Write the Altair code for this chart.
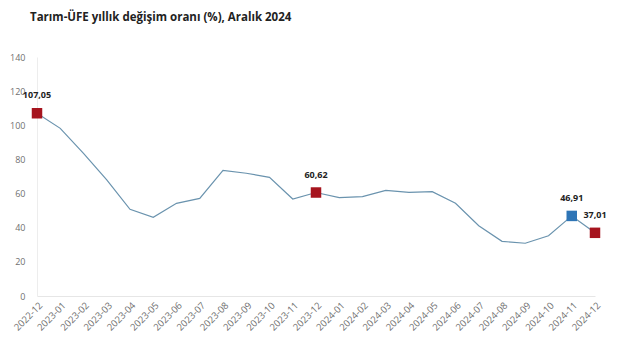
import altair as alt
import pandas as pd

months = ["2022-12", "2023-01", "2023-02", "2023-03", "2023-04", "2023-05", "2023-06",
          "2023-07", "2023-08", "2023-09", "2023-10", "2023-11", "2023-12", "2024-01",
          "2024-02", "2024-03", "2024-04", "2024-05", "2024-06", "2024-07", "2024-08",
          "2024-09", "2024-10", "2024-11", "2024-12"]
values = [107.05, 98.2, 83.6, 68.0, 50.8, 46.1, 54.3, 57.2, 73.6, 71.9, 69.5, 56.8, 60.62,
          57.6, 58.2, 61.9, 60.7, 61.1, 54.3, 41.2, 32.0, 30.9, 35.3, 46.91, 37.01]
highlight_months = ["2022-12", "2023-12", "2024-11", "2024-12"]
highlight_colors = ["#A6141E", "#A6141E", "#2E75B6", "#A6141E"]
highlight_labels = ["107,05", "60,62", "46,91", "37,01"]

df = pd.DataFrame({"ay": months, "oran": values})
hl = pd.DataFrame({
    "ay": highlight_months,
    "oran": [values[months.index(m)] for m in highlight_months],
    "renk": highlight_colors,
    "etiket": highlight_labels,
})

x_enc = alt.X("ay:O", sort=months, scale=alt.Scale(type="point", padding=0),
              axis=alt.Axis(title=None, labelAngle=-45, labelFontSize=9.5, labelColor="#707070",
                            labelFont="Open Sans", ticks=False, domainColor="#E6E6E6",
                            labelPadding=4, labelOverlap=False))
y_enc = alt.Y("oran:Q", scale=alt.Scale(domain=[0, 140]),
              axis=alt.Axis(title=None, values=[0, 20, 40, 60, 80, 100, 120, 140], grid=False,
                            ticks=False, domainColor="#EDEDED", labelFontSize=9,
                            labelColor="#707070", labelFont="Open Sans", labelPadding=12,
                            labelOverlap=False))

line = alt.Chart(df).mark_line(color="#6A93AE", strokeWidth=1.2).encode(x=x_enc, y=y_enc)
points = alt.Chart(hl).mark_square(size=110, opacity=1).encode(
    x=x_enc, y=y_enc, color=alt.Color("renk:N", scale=None))
labels = alt.Chart(hl).mark_text(dy=-18, fontSize=9, fontWeight="bold", color="#222222",
                                 font="Open Sans").encode(
    x=x_enc, y=y_enc, text="etiket:N")

chart = alt.layer(line, points, labels).properties(
    width=558, height=239,
    title=alt.TitleParams("Tarım-ÜFE yıllık değişim oranı (%), Aralık 2024", anchor="start",
                          frame="group", dx=-7, offset=30, fontSize=11.5, fontWeight="bold",
                          font="Open Sans", color="#222222"),
    autosize=alt.AutoSizeParams(type="none"),
    padding={"left": 37, "top": 57, "right": 26, "bottom": 58},
).configure_view(stroke=None)

chart.save("out.html", embed_options={"renderer": "svg", "actions": False})
